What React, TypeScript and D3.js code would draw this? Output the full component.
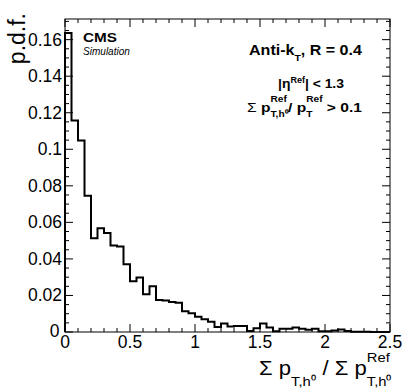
import { useEffect, useRef } from 'react'
import * as d3 from 'd3'

// histogram: 50 bins of width 0.05 from 0 to 2.5
const binStart = 0
const binWidth = 0.05
const pdfValues = [
  0.1636, 0.1158, 0.1048, 0.0745, 0.0513, 0.0568, 0.0542, 0.0473, 0.0468, 0.0371,
  0.0278, 0.0298, 0.0207, 0.0251, 0.0175, 0.0172, 0.0164, 0.0160, 0.0113, 0.0102,
  0.0084, 0.0070, 0.0056, 0.0027, 0.0047, 0.0030, 0.0033, 0.0033, 0.0005, 0.0020,
  0.0046, 0.0024, 0.0004, 0.0018, 0.0018, 0.0024, 0.0018, 0.0012, 0.0018, 0.0004,
  0.0004, 0.0008, 0.0014, 0.0006, 0.0002, 0.0001, 0.0001, 0, 0, 0
]
const xTicks = [0, 0.5, 1, 1.5, 2, 2.5]
const xTickLabels = ['0', '0.5', '1', '1.5', '2', '2.5']
const yTicks = [0, 0.02, 0.04, 0.06, 0.08, 0.1, 0.12, 0.14, 0.16]
const yTickLabels = ['0', '0.02', '0.04', '0.06', '0.08', '0.1', '0.12', '0.14', '0.16']

const FONT = "'Liberation Sans', Arial, Helvetica, sans-serif"

// pieces of a ROOT-like latex label; `under` stacks a subscript below the previous superscript
type Piece = { t: string, k?: number, dy?: number, w?: string, under?: boolean }

const App = () => {
  const chartRef = useRef(null)

  useEffect(() => {
    const width = 407
    const height = 391
    const left = 65, right = 390, top = 19, bottom = 332

    const svg = d3.select(chartRef.current)
    svg.selectAll('*').remove()
    svg.attr('width', width).attr('height', height)

    const x = d3.scaleLinear().domain([0, 2.5]).range([left, right])
    const y = d3.scaleLinear().domain([0, 0.1713]).range([bottom, top])

    svg.append('rect')
      .attr('width', width).attr('height', height).attr('fill', 'white')

    // ticks on all four sides, pointing inward
    const ticks = svg.append('g').attr('stroke', 'black').attr('stroke-width', 1)
    d3.range(0, 2.5001, 0.1).forEach(v => {
      const major = xTicks.some(t => Math.abs(t - v) < 1e-6)
      const len = major ? 8 : 4
      ticks.append('line').attr('x1', x(v)).attr('x2', x(v)).attr('y1', bottom).attr('y2', bottom - len)
      ticks.append('line').attr('x1', x(v)).attr('x2', x(v)).attr('y1', top).attr('y2', top + len)
    })
    d3.range(0, 0.1701, 0.005).forEach(v => {
      const major = yTicks.some(t => Math.abs(t - v) < 1e-6)
      const len = major ? 8 : 4
      ticks.append('line').attr('y1', y(v)).attr('y2', y(v)).attr('x1', left).attr('x2', left + len)
      ticks.append('line').attr('y1', y(v)).attr('y2', y(v)).attr('x1', right).attr('x2', right - len)
    })

    // histogram outline
    const pts = [[binStart, 0]]
    pdfValues.forEach((v, i) => {
      const lo = binStart + i * binWidth
      pts.push([lo, v])
      pts.push([lo + binWidth, v])
    })
    pts.push([binStart + pdfValues.length * binWidth, 0])
    const line = d3.line().x(d => x(d[0])).y(d => y(d[1]))
    svg.append('path')
      .attr('d', line(pts))
      .attr('fill', 'none')
      .attr('stroke', 'black')
      .attr('stroke-width', 2)

    // frame
    svg.append('rect')
      .attr('x', left).attr('y', top)
      .attr('width', right - left).attr('height', bottom - top)
      .attr('fill', 'none').attr('stroke', 'black').attr('stroke-width', 1)

    // tick labels
    svg.selectAll('.xlab')
      .data(xTicks)
      .enter()
      .append('text')
      .attr('class', 'xlab')
      .attr('x', d => x(d))
      .attr('y', 347.5)
      .attr('text-anchor', 'middle')
      .style('font-family', FONT)
      .style('font-size', '17.5px')
      .text((d, i) => xTickLabels[i])

    svg.selectAll('.ylab')
      .data(yTicks)
      .enter()
      .append('text')
      .attr('class', 'ylab')
      .attr('x', d => (d === 0 ? 59.5 : 62))
      .attr('y', d => y(d) + (d === 0 ? 4.5 : 6))
      .attr('text-anchor', 'end')
      .style('font-family', FONT)
      .style('font-size', '17.5px')
      .text((d, i) => yTickLabels[i])

    // y title
    svg.append('text')
      .attr('transform', 'translate(25,13) rotate(-90)')
      .attr('text-anchor', 'end')
      .style('font-family', FONT)
      .style('font-size', '23px')
      .text('p.d.f.')

    // lays pieces out left to right, then stretches the group to span x0..x1
    const label = (pieces: Piece[], x0, x1, base, size, weight = 'normal', style = 'normal') => {
      const g = svg.append('g')
      let cursor = 0, prevStart = 0, prevEnd = 0
      pieces.forEach(p => {
        const start = p.under ? prevStart : cursor
        const t = g.append('text')
          .attr('x', start).attr('y', p.dy || 0)
          .style('font-family', FONT)
          .style('font-size', `${size * (p.k || 1)}px`)
          .style('font-weight', p.w || weight)
          .style('font-style', style)
          .style('white-space', 'pre')
          .text(p.t)
        const end = start + t.node().getComputedTextLength()
        cursor = p.under ? Math.max(prevEnd, end) : end
        prevStart = start
        prevEnd = end
      })
      const sx = x1 != null ? (x1 - x0) / cursor : 1
      g.attr('transform', `translate(${x0},${base}) scale(${sx},1)`)
    }

    // x title
    label([
      { t: 'Σ p' },
      { t: 'T,h⁰', k: 0.67, dy: 11 },
      { t: ' / Σ p' },
      { t: 'Ref', k: 0.67, dy: -13 },
      { t: 'T,h⁰', k: 0.67, dy: 11, under: true }
    ], 259, 392, 375, 20)

    // CMS labels
    label([{ t: 'CMS' }], 83, 117, 42, 13.5, 'bold')
    label([{ t: 'Simulation' }], 83, 130, 55, 10, 'normal', 'italic')

    // selection labels
    label([
      { t: 'Anti-k' },
      { t: 'T', k: 0.65, dy: 6 },
      { t: ', R = 0.4' }
    ], 249, 362, 55, 14.5, 'bold')

    label([
      { t: '|η' },
      { t: 'Ref', k: 0.65, dy: -5 },
      { t: '| < 1.3' }
    ], 278, 344, 88, 13.5, 'bold')

    label([
      { t: 'Σ ', w: 'normal' },
      { t: 'p' },
      { t: 'Ref', k: 0.65, dy: -10 },
      { t: 'T,h⁰', k: 0.65, dy: 5, under: true },
      { t: '/ p' },
      { t: 'Ref', k: 0.65, dy: -10 },
      { t: 'T', k: 0.65, dy: 5, under: true },
      { t: ' > 0.1' }
    ], 247, 362, 112, 13.5, 'bold')
  }, [])

  return (
    <div style={{ position: 'absolute', left: 0, top: 0 }}>
      <svg ref={chartRef}></svg>
    </div>
  )
}

export default App
